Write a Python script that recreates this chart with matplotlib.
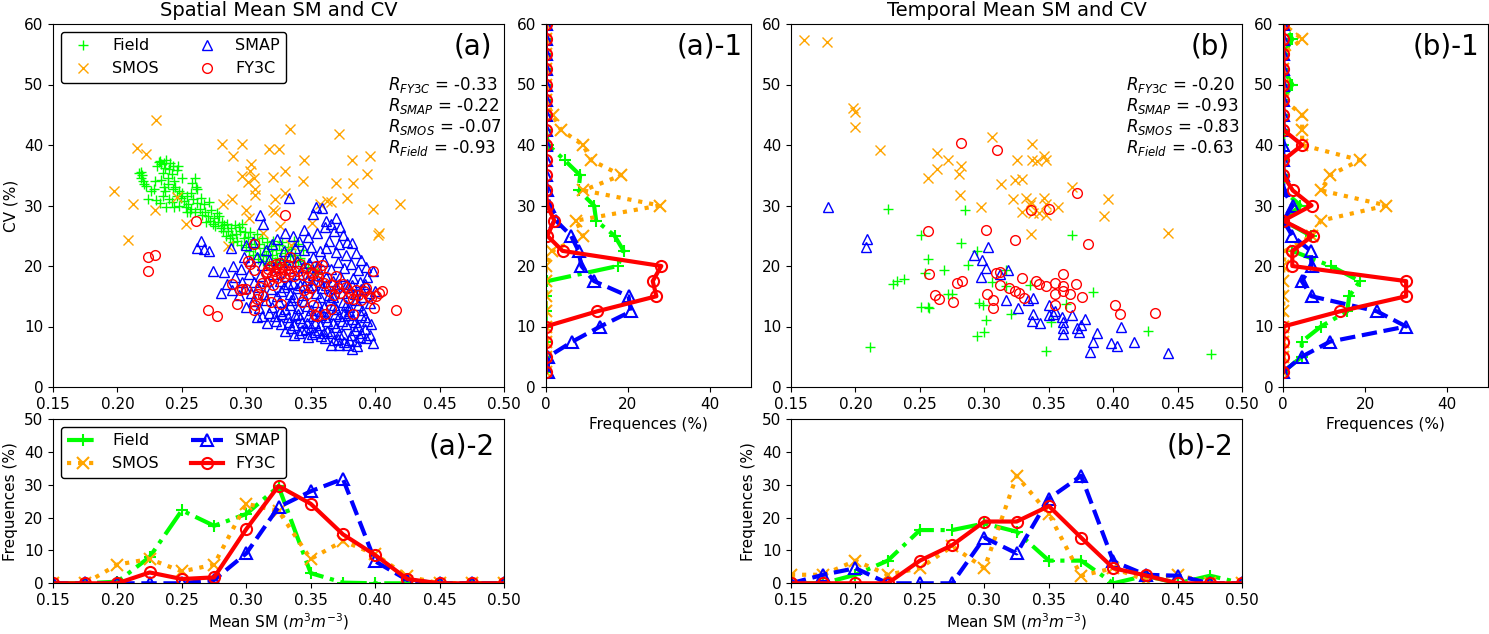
import matplotlib
matplotlib.use("Agg")
import matplotlib.pyplot as plt
import numpy as np

plt.rcParams["font.size"] = 11

# bin centres of the frequency curves
sm_bins = [0.15, 0.175, 0.2, 0.225, 0.25, 0.275, 0.3, 0.325, 0.35, 0.375,
           0.4, 0.425, 0.45, 0.475, 0.5]
cv_bins = [2.5, 5, 7.5, 10, 12.5, 15, 17.5, 20, 22.5, 25, 27.5, 30, 32.5,
           35, 37.5, 40, 42.5, 45, 47.5, 50, 52.5, 55, 57.5, 60]

# ---------------- spatial scatter (a): (mean SM, CV) ----------------
field_sp = [
    (0.217, 35.3), (0.218, 34.6), (0.219, 35.0), (0.220, 34.0), (0.221, 33.6), (0.222, 33.2), (0.218, 35.6),
    (0.224, 31.0), (0.226, 32.4), (0.228, 32.8), (0.230, 30.9), (0.231, 36.6), (0.232, 37.2), (0.229, 34.0),
    (0.233, 37.4), (0.234, 36.8), (0.235, 35.3), (0.236, 37.0), (0.237, 36.2), (0.238, 37.5), (0.239, 34.6),
    (0.240, 36.0), (0.233, 30.4), (0.235, 31.5), (0.236, 33.0), (0.238, 29.8), (0.240, 31.0), (0.234, 34.2),
    (0.237, 32.4), (0.239, 33.5), (0.241, 37.0), (0.242, 35.2), (0.243, 36.5), (0.244, 34.0), (0.245, 33.0),
    (0.246, 35.8), (0.247, 36.5), (0.248, 32.4), (0.249, 31.2), (0.250, 34.5), (0.242, 30.5), (0.244, 29.8),
    (0.246, 31.6), (0.248, 30.0), (0.250, 32.0), (0.243, 32.8), (0.252, 30.8), (0.253, 29.7), (0.254, 31.5),
    (0.255, 30.2), (0.256, 29.0), (0.257, 32.0), (0.258, 33.8), (0.259, 31.0), (0.260, 34.6), (0.261, 33.0),
    (0.262, 30.4), (0.254, 28.9), (0.257, 29.5), (0.260, 29.0), (0.262, 32.8), (0.264, 29.4), (0.265, 31.2),
    (0.266, 28.5), (0.267, 30.2), (0.268, 29.0), (0.270, 28.3), (0.271, 30.6), (0.272, 27.5), (0.273, 29.2),
    (0.275, 28.0), (0.276, 26.6), (0.277, 28.8), (0.278, 27.2), (0.279, 28.2), (0.280, 26.3), (0.269, 27.2),
    (0.274, 27.0), (0.281, 27.2), (0.282, 25.8), (0.283, 26.8), (0.284, 25.0), (0.285, 27.0), (0.286, 25.8),
    (0.287, 24.6), (0.288, 26.2), (0.289, 25.2), (0.290, 24.0), (0.291, 26.7), (0.292, 25.3), (0.293, 24.2),
    (0.295, 25.8), (0.296, 23.5), (0.297, 27.0), (0.298, 24.6), (0.299, 25.6), (0.300, 23.2), (0.294, 26.5),
    (0.301, 24.8), (0.302, 22.5), (0.303, 25.6), (0.304, 23.6), (0.305, 21.8), (0.306, 24.4), (0.307, 22.9),
    (0.308, 25.3), (0.309, 21.2), (0.310, 23.7), (0.311, 22.0), (0.312, 24.6), (0.313, 20.8), (0.314, 23.0),
    (0.315, 21.6), (0.316, 24.0), (0.317, 22.4), (0.318, 20.5), (0.319, 23.3), (0.320, 21.9), (0.321, 24.2),
    (0.322, 20.6), (0.323, 22.7), (0.324, 21.4), (0.325, 23.5), (0.326, 20.2), (0.327, 22.1), (0.328, 23.9),
    (0.329, 21.0), (0.330, 22.6), (0.331, 20.4), (0.332, 23.2), (0.334, 21.7), (0.335, 22.8), (0.336, 20.6),
    (0.338, 21.9), (0.340, 20.8), (0.342, 21.4), (0.344, 22.6), (0.345, 20.3), (0.348, 19.8), (0.352, 19.5),
    (0.355, 18.9), (0.337, 24.2), (0.340, 23.6),
]
smos_sp = [
    (0.197, 32.4), (0.208, 24.3), (0.212, 30.2), (0.215, 39.5), (0.222, 38.5), (0.229, 29.2), (0.230, 44.1),
    (0.246, 31.4), (0.253, 27.0), (0.281, 40.1), (0.282, 30.2), (0.289, 31.0), (0.290, 38.1), (0.286, 23.3),
    (0.297, 34.9), (0.297, 40.1), (0.300, 29.3), (0.301, 33.9), (0.302, 28.0), (0.303, 35.7), (0.304, 36.8),
    (0.306, 34.6), (0.307, 32.7), (0.307, 31.7), (0.318, 39.3), (0.325, 39.4), (0.321, 34.7), (0.321, 29.3),
    (0.322, 31.0), (0.322, 29.0), (0.326, 26.6), (0.330, 35.7), (0.330, 32.1), (0.334, 42.7), (0.345, 37.6),
    (0.344, 34.1), (0.351, 27.1), (0.357, 30.2), (0.363, 30.8), (0.366, 30.6), (0.370, 33.8), (0.372, 41.8),
    (0.378, 31.2), (0.382, 37.6), (0.383, 33.8), (0.394, 35.2), (0.396, 38.1), (0.398, 29.5), (0.402, 25.1),
    (0.403, 25.4), (0.419, 30.2), (0.335, 23.4), (0.313, 25.5),
]
smap_sp = [
    (0.333, 31.2), (0.354, 29.8), (0.359, 29.6), (0.362, 27.5),
    (0.311, 28.5), (0.313, 27.0), (0.352, 28.6), (0.366, 27.0), (0.370, 28.0), (0.361, 26.5), (0.373, 26.5),
    (0.324, 24.5), (0.330, 25.5), (0.336, 25.0), (0.345, 26.0), (0.348, 24.8), (0.355, 25.5), (0.364, 24.2),
    (0.375, 25.2), (0.378, 24.0), (0.382, 23.8), (0.372, 23.6), (0.368, 25.8), (0.341, 24.2),
    (0.262, 23.0), (0.265, 24.2), (0.267, 22.8), (0.271, 22.5), (0.288, 22.9), (0.300, 23.5), (0.305, 24.0),
    (0.315, 22.6), (0.320, 23.6), (0.329, 22.4), (0.338, 23.0), (0.345, 22.6), (0.350, 23.2), (0.357, 22.4),
    (0.362, 22.9), (0.370, 22.3), (0.377, 21.8), (0.385, 22.2), (0.389, 21.0), (0.352, 21.5), (0.334, 21.5),
    (0.274, 19.2), (0.283, 19.0), (0.290, 20.0), (0.296, 19.5), (0.298, 21.5), (0.303, 20.8), (0.308, 21.5),
    (0.312, 20.2), (0.318, 21.0), (0.322, 19.8), (0.327, 20.6), (0.333, 19.6), (0.339, 20.9), (0.344, 19.8),
    (0.349, 20.5), (0.355, 19.9), (0.360, 20.8), (0.366, 19.5), (0.371, 20.6), (0.376, 19.7), (0.381, 20.3),
    (0.387, 19.4), (0.393, 19.9), (0.398, 19.2),
    (0.285, 17.0), (0.291, 18.2), (0.297, 17.4), (0.302, 18.6), (0.306, 17.3), (0.311, 18.4), (0.316, 17.6),
    (0.321, 18.7), (0.326, 17.5), (0.331, 18.3), (0.336, 17.2), (0.341, 18.6), (0.347, 17.7), (0.352, 18.5),
    (0.357, 17.3), (0.362, 18.2), (0.367, 17.5), (0.373, 18.4), (0.378, 17.1), (0.383, 18.0), (0.388, 17.4),
    (0.394, 18.2),
    (0.280, 15.6), (0.289, 16.0), (0.294, 15.2), (0.299, 16.4), (0.304, 15.5), (0.309, 16.6), (0.314, 15.3),
    (0.319, 16.2), (0.324, 15.1), (0.329, 16.5), (0.334, 15.4), (0.339, 16.3), (0.344, 15.2), (0.349, 16.6),
    (0.354, 15.5), (0.359, 16.4), (0.364, 15.2), (0.369, 16.3), (0.374, 15.6), (0.379, 16.5), (0.384, 15.3),
    (0.389, 16.2), (0.395, 15.5), (0.400, 15.9),
    (0.300, 13.2), (0.305, 14.2), (0.310, 13.0), (0.315, 14.4), (0.320, 13.3), (0.325, 14.1), (0.330, 12.9),
    (0.335, 14.3), (0.340, 13.1), (0.345, 14.2), (0.350, 12.8), (0.355, 14.0), (0.360, 13.2), (0.365, 14.4),
    (0.370, 12.9), (0.375, 14.1), (0.380, 13.3), (0.385, 14.3), (0.390, 12.8), (0.396, 13.9), (0.312, 11.8),
    (0.308, 11.5), (0.316, 10.6), (0.322, 11.7), (0.327, 10.4), (0.332, 11.6), (0.337, 10.2), (0.342, 11.4),
    (0.347, 10.5), (0.352, 11.7), (0.357, 10.3), (0.362, 11.5), (0.367, 10.6), (0.372, 11.8), (0.377, 10.4),
    (0.382, 11.3), (0.387, 10.1), (0.392, 11.6), (0.397, 10.4),
    (0.330, 9.3), (0.337, 8.6), (0.343, 9.4), (0.348, 8.2), (0.353, 9.1), (0.358, 8.5), (0.363, 9.3),
    (0.368, 7.7), (0.372, 8.8), (0.376, 7.4), (0.381, 8.6), (0.385, 7.6), (0.389, 9.0), (0.393, 8.1),
    (0.398, 7.2), (0.366, 7.0), (0.372, 6.9), (0.382, 6.2), (0.378, 7.0), (0.386, 6.8),
    (0.340, 12.0), (0.350, 10.0), (0.360, 9.0), (0.370, 10.0), (0.380, 12.5), (0.390, 14.8), (0.345, 16.9),
    (0.358, 11.9), (0.368, 13.6), (0.376, 12.2), (0.334, 13.6), (0.326, 12.6), (0.318, 12.2), (0.384, 9.4),
    (0.323, 10.9), (0.328, 12.1), (0.333, 10.8), (0.338, 11.9), (0.343, 10.7), (0.348, 11.8), (0.353, 10.6),
    (0.358, 12.6), (0.363, 10.9), (0.369, 12.0), (0.374, 10.9), (0.379, 11.9), (0.384, 10.8), (0.389, 11.9),
    (0.394, 10.9), (0.335, 9.8), (0.341, 8.9), (0.346, 9.6), (0.351, 8.7), (0.356, 9.5), (0.361, 8.1),
    (0.366, 8.9), (0.371, 7.9), (0.375, 8.7), (0.380, 7.8), (0.388, 8.2), (0.392, 9.6), (0.396, 8.6),
    (0.327, 15.8), (0.337, 14.9), (0.347, 13.4), (0.357, 14.9), (0.367, 14.9), (0.377, 13.5), (0.387, 13.6),
    (0.332, 17.0), (0.342, 16.8), (0.352, 16.9), (0.362, 16.8), (0.372, 17.0), (0.382, 16.8), (0.392, 17.1),
]
fy3c_sp = [
    (0.224, 21.5), (0.229, 21.9), (0.224, 19.2), (0.261, 27.5), (0.270, 12.7), (0.277, 11.7), (0.289, 17.0),
    (0.293, 13.8), (0.306, 23.6), (0.334, 21.5), (0.330, 28.4), (0.398, 19.2), (0.416, 12.7), (0.405, 15.9),
    (0.399, 13.0), (0.383, 12.1), (0.352, 13.5), (0.353, 11.9), (0.327, 13.7), (0.319, 14.1), (0.306, 12.8),
    (0.295, 16.0), (0.297, 16.2), (0.300, 16.2), (0.301, 20.8), (0.303, 20.4), (0.306, 19.4), (0.308, 14.5),
    (0.309, 15.3), (0.311, 16.6), (0.313, 15.0), (0.307, 13.5), (0.312, 17.2),
    (0.315, 18.8), (0.317, 19.5), (0.319, 20.0), (0.320, 18.4), (0.322, 19.2), (0.323, 20.3), (0.324, 18.0),
    (0.325, 19.7), (0.326, 20.5), (0.327, 18.6), (0.328, 19.9), (0.329, 18.2), (0.330, 19.4), (0.332, 20.1),
    (0.333, 18.7), (0.335, 19.1), (0.337, 18.3), (0.318, 17.6), (0.321, 16.8), (0.316, 19.0),
    (0.340, 19.2), (0.342, 20.4), (0.344, 18.5), (0.346, 19.6), (0.348, 18.2), (0.350, 19.0), (0.352, 18.6),
    (0.354, 20.0), (0.356, 18.3), (0.357, 19.5), (0.359, 20.1), (0.345, 16.1), (0.347, 15.4), (0.350, 16.4),
    (0.343, 14.0), (0.355, 11.7),
    (0.360, 17.2), (0.362, 18.1), (0.364, 15.8), (0.366, 16.9), (0.368, 15.2), (0.370, 18.3), (0.371, 16.4),
    (0.373, 15.5), (0.375, 17.0), (0.377, 16.6), (0.379, 14.7), (0.381, 15.6), (0.383, 14.5), (0.385, 16.1),
    (0.387, 15.2), (0.389, 14.4), (0.391, 15.8), (0.393, 16.4), (0.395, 15.0), (0.397, 14.7), (0.401, 15.0),
    (0.403, 15.5), (0.366, 12.9), (0.355, 17.5), (0.361, 12.1),
]

# ---------------- temporal scatter (b) ----------------
field_tm = [
    (0.211, 6.6), (0.225, 29.5), (0.229, 17.0), (0.232, 17.6), (0.238, 17.8), (0.251, 25.1), (0.251, 13.2),
    (0.254, 18.9), (0.256, 21.1), (0.256, 13.2), (0.257, 13.0), (0.269, 19.4), (0.272, 15.4), (0.275, 15.4),
    (0.282, 23.8), (0.285, 29.3), (0.287, 20.1), (0.294, 8.4), (0.296, 13.9), (0.299, 13.5), (0.300, 9.1),
    (0.301, 11.1), (0.294, 22.5), (0.306, 17.4), (0.317, 16.7), (0.317, 19.4), (0.321, 12.1), (0.335, 16.8),
    (0.348, 6.0), (0.352, 10.8), (0.363, 13.8), (0.368, 25.2), (0.384, 15.7), (0.427, 9.3), (0.476, 5.4),
]
smos_tm = [
    (0.160, 57.3), (0.178, 57.1), (0.198, 46.1), (0.200, 45.5), (0.200, 43.0), (0.219, 39.2), (0.256, 34.5),
    (0.263, 38.7), (0.263, 36.0), (0.272, 37.5), (0.280, 35.2), (0.282, 36.6), (0.281, 31.7), (0.297, 29.8),
    (0.306, 41.3), (0.313, 33.6), (0.322, 31.0), (0.325, 37.5), (0.324, 34.2), (0.329, 34.4), (0.329, 29.0),
    (0.332, 31.2), (0.335, 30.1), (0.336, 30.6), (0.336, 25.3), (0.337, 40.1), (0.337, 37.6), (0.341, 37.3),
    (0.338, 28.7), (0.342, 28.7), (0.346, 38.2), (0.348, 37.5), (0.346, 31.2), (0.348, 28.4), (0.348, 30.2),
    (0.357, 29.8), (0.368, 33.1), (0.393, 28.2), (0.396, 31.0), (0.442, 25.4),
]
smap_tm = [
    (0.179, 29.7), (0.209, 24.5), (0.208, 23.1), (0.292, 21.8), (0.298, 21.0), (0.301, 19.6), (0.297, 18.1),
    (0.303, 23.1), (0.312, 18.6), (0.318, 19.4), (0.317, 14.3), (0.326, 13.0), (0.334, 14.3), (0.338, 14.7),
    (0.338, 12.1), (0.337, 10.9), (0.343, 10.5), (0.350, 13.5), (0.350, 11.9), (0.353, 12.1), (0.360, 11.6),
    (0.361, 10.8), (0.361, 9.7), (0.361, 8.8), (0.368, 11.9), (0.372, 9.7), (0.373, 9.1), (0.375, 10.2),
    (0.378, 11.3), (0.384, 7.4), (0.387, 8.9), (0.382, 5.8), (0.398, 7.3), (0.403, 6.7), (0.406, 10.0),
    (0.416, 7.4), (0.442, 5.6), (0.355, 12.5),
]
fy3c_tm = [
    (0.282, 40.4), (0.310, 39.2), (0.256, 25.8), (0.301, 25.9), (0.324, 24.3), (0.336, 29.3), (0.350, 29.5),
    (0.372, 32.1), (0.380, 23.7), (0.257, 18.6), (0.262, 15.2), (0.265, 14.5), (0.276, 14.0), (0.279, 17.2),
    (0.283, 17.5), (0.302, 15.3), (0.307, 14.3), (0.307, 13.0), (0.309, 18.8), (0.312, 16.9), (0.312, 19.0),
    (0.319, 16.4), (0.324, 15.8), (0.327, 15.6), (0.329, 18.0), (0.331, 14.7), (0.340, 17.5), (0.342, 17.0),
    (0.348, 16.7), (0.355, 17.2), (0.355, 15.3), (0.355, 13.5), (0.361, 18.6), (0.361, 16.7), (0.361, 15.8),
    (0.366, 15.4), (0.366, 13.2), (0.371, 17.0), (0.376, 14.9), (0.401, 13.6), (0.405, 12.0), (0.432, 12.3),
]

# ---------------- frequency curves (%) ----------------
# over mean SM (a)-2 / (b)-2
field_sm_a = [0, 0, 0.5, 8, 22.2, 17.5, 21.1, 29.5, 3.1, 0.2, 0, 0, 0, 0, 0]
smos_sm_a = [0, 0, 5.7, 7.4, 3.6, 5.7, 24.2, 22, 7.4, 12.9, 8.8, 2.1, 0, 0, 0]
smap_sm_a = [0, 0, 0, 0, 0, 1, 9.1, 23.2, 28, 31.8, 6.7, 1, 0, 0, 0]
fy3c_sm_a = [0, 0, 0, 3.3, 1.3, 1.8, 16.5, 29.6, 24.2, 14.9, 8.6, 1.3, 0, 0, 0]

field_sm_b = [0, 0, 2.6, 6.9, 16.2, 16.2, 18.2, 15.7, 6.9, 6.9, 0, 2.3, 0, 2.3, 0]
smos_sm_b = [2.6, 2.6, 6.9, 2.6, 4.6, 11.3, 4.6, 32.7, 21.1, 2.3, 4.6, 1, 2.6, 0, 0]
smap_sm_b = [0, 2.6, 4.6, 0, 0, 0, 13.9, 9.1, 25.8, 32.7, 6.7, 2.6, 2.3, 0, 0]
fy3c_sm_b = [0, 0, 0, 0, 6.9, 11.6, 18.8, 18.8, 23.5, 13.9, 4.6, 2.4, 0, 0, 0]

# over CV (a)-1 / (b)-1
field_cv_a = [0, 0, 0, 0, 0, 0, 0.4, 17.6, 19.0, 16.8, 12.3, 11.8, 8.0, 8.4, 4.6, 0.6, 0, 0, 0, 0, 0, 0, 0, 0]
smos_cv_a = [0, 0, 0, 0, 0, 0, 0, 0, 1.6, 9.1, 7.4, 27.8, 9.2, 18.4, 11.1, 9.1, 3.7, 1.7, 0, 0, 0, 0, 0, 0]
smap_cv_a = [0.5, 0.6, 6.5, 13.3, 20.8, 20.2, 11.8, 8.7, 8.0, 6.2, 2.5, 0.9, 0.3, 0, 0, 0, 0, 0, 0, 0, 0, 0, 0, 0]
fy3c_cv_a = [0, 0, 0, 0, 12.5, 27.0, 26.1, 28.2, 4.1, 0.4, 2.1, 0.4, 0, 0, 0, 0, 0, 0, 0, 0, 0, 0, 0, 0]

field_cv_b = [0, 4.5, 4.5, 9.2, 15.6, 16.1, 18.7, 11.6, 2.2, 6.7, 0, 4.2, 0, 0, 0, 0, 0, 0, 0, 2.2, 0, 0, 2.2, 0]
smos_cv_b = [0, 0, 0, 0, 0, 0, 0, 0, 0.5, 6.9, 9.2, 25.2, 9.2, 11.4, 18.7, 4.6, 4.6, 4.6, 0, 0, 0, 0, 4.6, 0]
smap_cv_b = [0, 4.5, 11.4, 30.0, 22.9, 6.9, 4.5, 6.9, 6.7, 2.2, 0, 2.3, 0, 0, 0, 0, 0, 0, 0, 0, 0, 0, 0, 0]
fy3c_cv_b = [0, 0, 0, 0, 13.8, 30.0, 30.0, 2.2, 2.2, 7.2, 0, 6.9, 2.3, 0, 0, 4.6, 0, 0, 0, 0, 0, 0, 0, 0]

r_spatial = ["-0.33", "-0.22", "-0.07", "-0.93"]
r_temporal = ["-0.20", "-0.93", "-0.83", "-0.63"]
r_names = ["FY3C", "SMAP", "SMOS", "Field"]

names = ["Field", "SMOS", "SMAP", "FY3C"]
colors = ["lime", "orange", "blue", "red"]
markers = ["+", "x", "^", "o"]
lstyles = ["-.", ":", "--", "-"]

sm_label = r"Mean SM ($m^3m^{-3}$)"

fig = plt.figure(figsize=(14.89, 6.34), dpi=100)
W, H = 1489.0, 634.0


def add_ax(l, t, r, b):
    return fig.add_axes([l / W, 1 - b / H, (r - l) / W, (b - t) / H])


def scatter_panel(ax, series, rvals, title, label, ylabel=True):
    for (name, col, mk, pts) in zip(names, colors, markers, series):
        p = np.array(pts)
        ax.plot(p[:, 0], p[:, 1], ls="none", marker=mk, ms=7, mfc="none",
                mec=col, mew=1.0, label=name)
    ax.set_xlim(0.15, 0.5)
    ax.set_ylim(0, 60)
    ax.set_xticks(sm_bins[::2])
    ax.set_xticklabels(["%.2f" % v for v in sm_bins[::2]])
    ax.set_yticks(range(0, 61, 10))
    ax.set_title(title, fontsize=14)
    if ylabel:
        ax.set_ylabel("CV (%)")
    ax.text(0.973, 0.937, label, transform=ax.transAxes, ha="right",
            va="center", fontsize=20)
    for i, (nm, rv) in enumerate(zip(r_names, rvals)):
        ax.text(0.743, 0.832 - i * 0.058, r"$R_{%s}$ = %s" % (nm, rv),
                transform=ax.transAxes, ha="left", va="center", fontsize=12)


def cv_panel(ax, series, label):
    for (name, col, mk, ls, vals) in zip(names, colors, markers, lstyles, series):
        ax.plot(vals, cv_bins, ls=ls, color=col, lw=3, marker=mk, ms=8,
                mfc="none", mec=col, mew=1.5, label=name)
    ax.set_xlim(0, 50)
    ax.set_ylim(0, 60)
    ax.set_xticks([0, 20, 40])
    ax.set_yticks(range(0, 61, 10))
    ax.set_xlabel("Frequences (%)")
    ax.text(0.96, 0.937, label, transform=ax.transAxes, ha="right",
            va="center", fontsize=20)


def sm_panel(ax, series, label, legend=False):
    for (name, col, mk, ls, vals) in zip(names, colors, markers, lstyles, series):
        ax.plot(sm_bins, vals, ls=ls, color=col, lw=3, marker=mk, ms=8,
                mfc="none", mec=col, mew=1.5, label=name)
    ax.set_xlim(0.15, 0.5)
    ax.set_ylim(0, 50)
    ax.set_xticks(sm_bins[::2])
    ax.set_xticklabels(["%.2f" % v for v in sm_bins[::2]])
    ax.set_yticks(range(0, 51, 10))
    ax.set_xlabel(sm_label, labelpad=2)
    ax.set_ylabel("Frequences (%)")
    ax.text(0.98, 0.83, label, transform=ax.transAxes, ha="right",
            va="center", fontsize=20)
    if legend:
        ax.legend(loc="upper left", ncol=2, fontsize=11.5, edgecolor="black",
                  framealpha=1)


ax_a = add_ax(53, 24, 504, 387)
scatter_panel(ax_a, [field_sp, smos_sp, smap_sp, fy3c_sp], r_spatial,
              "Spatial Mean SM and CV", "(a)")
ax_a.legend(loc="upper left", ncol=2, fontsize=11.5, edgecolor="black",
            framealpha=1)

ax_a1 = add_ax(545.7, 24, 750.7, 387)
cv_panel(ax_a1, [field_cv_a, smos_cv_a, smap_cv_a, fy3c_cv_a], "(a)-1")

ax_a2 = add_ax(53, 419, 504, 583.3)
sm_panel(ax_a2, [field_sm_a, smos_sm_a, smap_sm_a, fy3c_sm_a], "(a)-2", legend=True)

ax_b = add_ax(791, 24, 1242.3, 387)
scatter_panel(ax_b, [field_tm, smos_tm, smap_tm, fy3c_tm], r_temporal,
              "Temporal Mean SM and CV", "(b)", ylabel=False)

ax_b1 = add_ax(1283.3, 24, 1488, 387)
cv_panel(ax_b1, [field_cv_b, smos_cv_b, smap_cv_b, fy3c_cv_b], "(b)-1")

ax_b2 = add_ax(791, 419, 1242.3, 583.3)
sm_panel(ax_b2, [field_sm_b, smos_sm_b, smap_sm_b, fy3c_sm_b], "(b)-2")

fig.savefig("out.png", dpi=100)
